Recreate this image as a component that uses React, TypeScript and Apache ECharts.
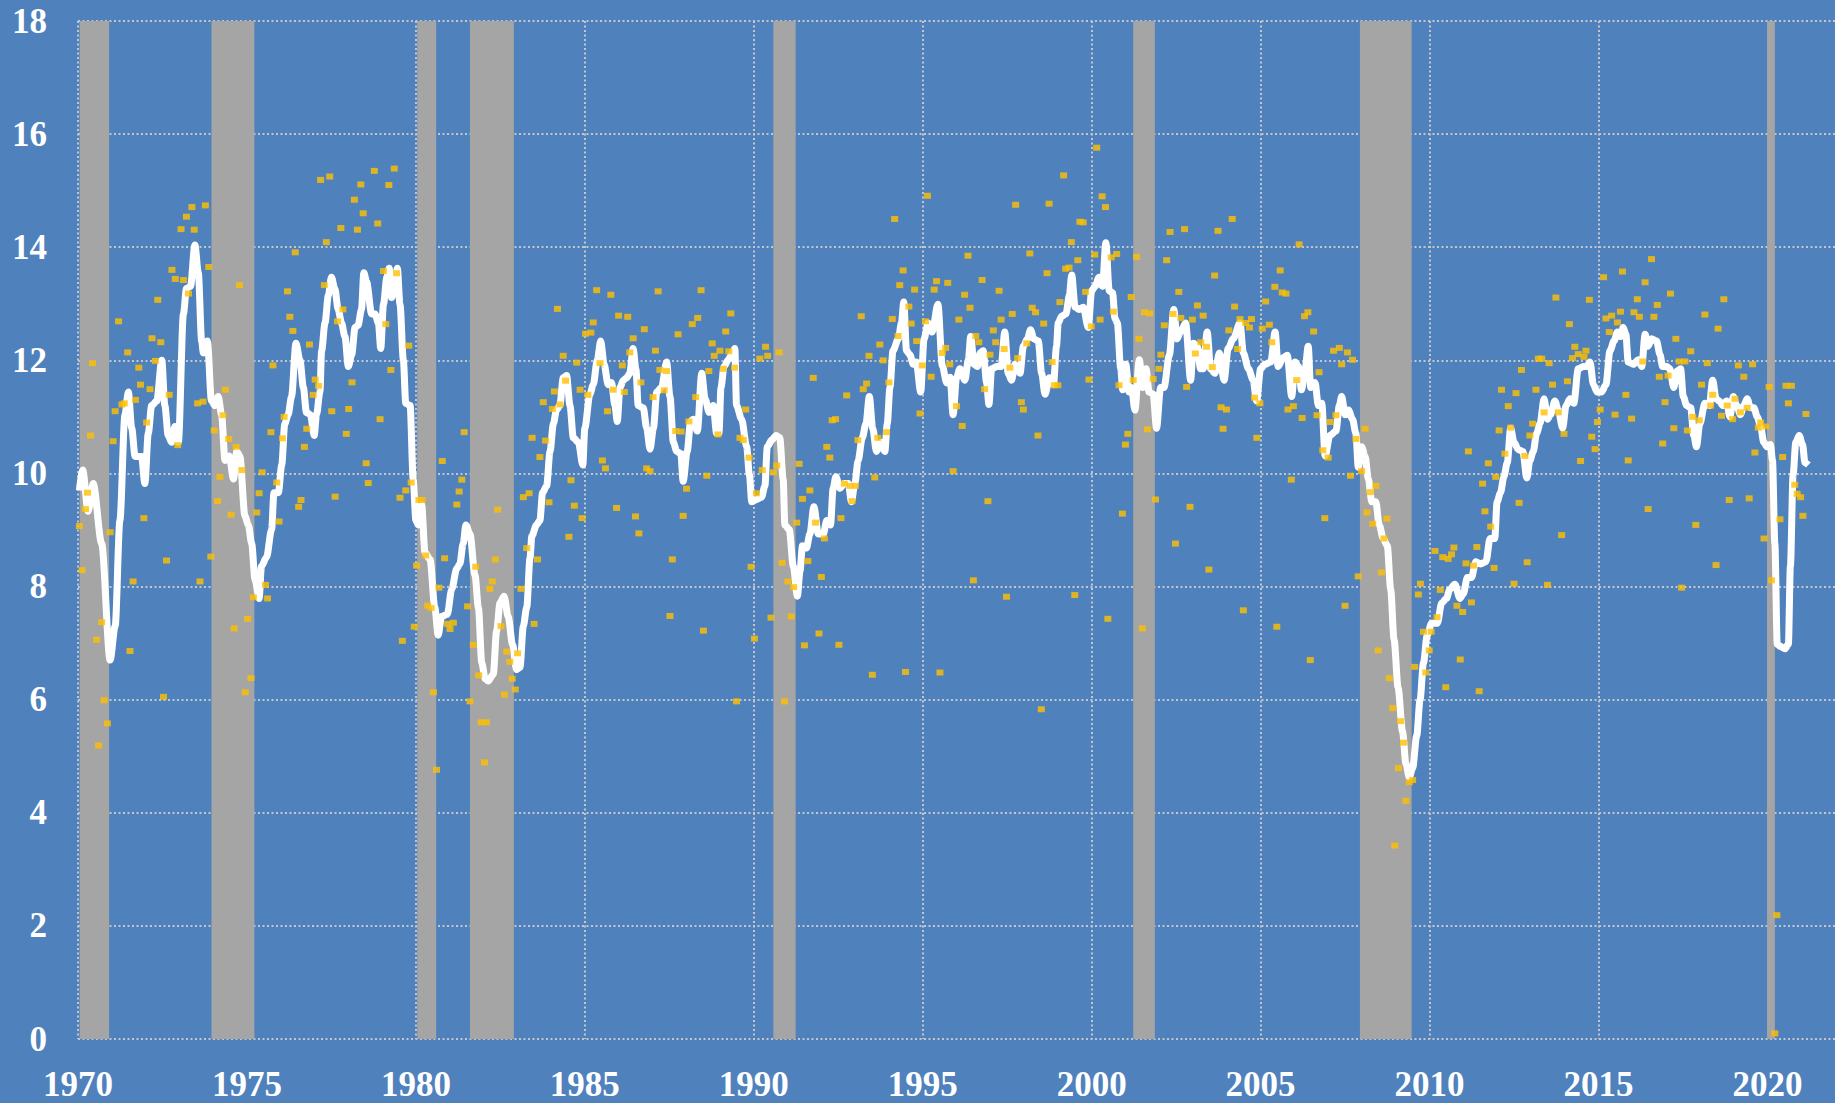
import React, { useEffect, useRef } from "react";
import * as echarts from "echarts";

// Recession bands (decimal years)
const recessions: [number, number][] = [
  [1970.05, 1970.92],
  [1973.95, 1975.22],
  [1980.04, 1980.6],
  [1981.6, 1982.9],
  [1990.58, 1991.24],
  [2001.23, 2001.87],
  [2007.94, 2009.47],
  [2019.99, 2020.22],
];

// White moving-average line: [year, value]
const movingAverage: [number, number][] = [
  [1970.04, 9.7], [1970.14, 10.06], [1970.3, 9.33], [1970.45, 9.82], [1970.7, 8.76], [1970.95, 6.7], [1971.1, 7.3], [1971.24, 9.17], [1971.39, 11.04], [1971.49, 11.44], [1971.59, 10.8], [1971.69, 10.3], [1971.88, 10.3], [1971.98, 9.82],
  [1972.08, 10.71], [1972.18, 11.2], [1972.33, 11.28], [1972.48, 12.0], [1972.57, 11.2], [1972.67, 10.67], [1972.77, 10.55], [1972.87, 10.83], [1972.97, 10.55], [1973.12, 12.82], [1973.21, 13.27], [1973.33, 13.31], [1973.46, 14.04], [1973.56, 13.55], [1973.66, 12.34], [1973.71, 12.13], [1973.83, 12.34], [1973.95, 11.28],
  [1974.05, 11.2], [1974.15, 11.36], [1974.25, 11.04], [1974.35, 10.23], [1974.48, 10.31], [1974.6, 9.9], [1974.7, 10.39], [1974.79, 10.31], [1974.94, 9.25], [1975.04, 9.09], [1975.14, 8.76], [1975.24, 8.12], [1975.36, 7.79], [1975.43, 8.36], [1975.58, 8.52], [1975.73, 9.01], [1975.8, 9.66], [1975.93, 9.66],
  [1976.03, 10.15], [1976.12, 10.88], [1976.22, 11.04], [1976.32, 11.36], [1976.45, 12.3], [1976.57, 12.0], [1976.67, 11.52], [1976.76, 11.08], [1976.88, 11.04], [1976.99, 10.67], [1977.06, 11.04], [1977.16, 11.44], [1977.21, 12.17], [1977.31, 12.66], [1977.41, 13.15], [1977.5, 13.47], [1977.6, 13.27], [1977.7, 12.9], [1977.8, 12.66], [1977.9, 12.42],
  [1978.0, 11.89], [1978.1, 12.1], [1978.2, 12.58], [1978.29, 12.62], [1978.39, 12.9], [1978.46, 13.55], [1978.54, 13.39], [1978.69, 12.82], [1978.79, 12.82], [1978.89, 12.66], [1978.96, 12.21], [1979.04, 12.99], [1979.14, 13.47], [1979.21, 13.63], [1979.28, 13.11], [1979.38, 13.31], [1979.45, 13.63], [1979.53, 12.99], [1979.63, 12.0], [1979.7, 11.24], [1979.83, 11.2], [1979.92, 9.9],
  [1980.0, 9.17], [1980.07, 9.09], [1980.17, 9.45], [1980.27, 8.6], [1980.42, 8.48], [1980.56, 7.63], [1980.66, 7.14], [1980.76, 7.47], [1980.93, 7.51], [1981.06, 7.95], [1981.21, 8.32], [1981.3, 8.4], [1981.4, 8.76], [1981.48, 9.09], [1981.6, 8.93], [1981.75, 8.2], [1981.85, 7.63], [1981.95, 6.65],
  [1982.05, 6.37], [1982.14, 6.33], [1982.29, 6.45], [1982.39, 7.22], [1982.49, 7.71], [1982.61, 7.83], [1982.73, 7.47], [1982.86, 6.98], [1982.98, 6.53], [1983.08, 6.57], [1983.18, 7.3], [1983.28, 7.63], [1983.38, 8.52], [1983.43, 8.89], [1983.57, 9.09], [1983.67, 9.17], [1983.75, 9.66], [1983.87, 9.78], [1983.97, 10.39],
  [1984.07, 10.88], [1984.16, 11.12], [1984.26, 11.2], [1984.36, 11.69], [1984.46, 11.73], [1984.56, 11.2], [1984.66, 10.63], [1984.81, 10.55], [1984.94, 10.15], [1985.0, 10.8], [1985.15, 11.4], [1985.25, 11.57], [1985.37, 12.01], [1985.47, 12.34], [1985.57, 11.93], [1985.69, 11.57], [1985.79, 11.61], [1985.89, 11.2], [1985.96, 10.92],
  [1986.04, 11.52], [1986.14, 11.65], [1986.24, 11.69], [1986.33, 11.77], [1986.43, 12.21], [1986.51, 11.85], [1986.58, 11.2], [1986.73, 11.16], [1986.83, 10.8], [1986.93, 10.43], [1987.03, 10.8], [1987.13, 11.44], [1987.27, 11.52], [1987.42, 11.97], [1987.52, 11.36], [1987.62, 10.55], [1987.72, 10.39], [1987.84, 10.35], [1987.91, 9.86],
  [1988.03, 10.39], [1988.13, 10.92], [1988.21, 10.96], [1988.33, 10.75], [1988.46, 11.77], [1988.56, 11.32], [1988.68, 11.08], [1988.8, 11.2], [1988.9, 10.71], [1988.97, 10.71], [1989.03, 11.52], [1989.12, 11.89], [1989.25, 12.01], [1989.34, 12.1], [1989.44, 12.21], [1989.49, 11.2], [1989.64, 10.96], [1989.79, 10.47], [1989.87, 9.98], [1989.94, 9.5],
  [1990.08, 9.54], [1990.23, 9.58], [1990.33, 9.78], [1990.4, 10.47], [1990.53, 10.59], [1990.66, 10.67], [1990.77, 10.63], [1990.87, 9.9], [1990.92, 9.09], [1991.05, 9.01], [1991.17, 8.36], [1991.29, 7.83], [1991.37, 8.28], [1991.44, 8.72], [1991.56, 8.68], [1991.66, 8.93], [1991.78, 9.41], [1991.91, 8.93],
  [1992.06, 8.93], [1992.16, 9.17], [1992.27, 9.09], [1992.35, 9.74], [1992.43, 9.94], [1992.55, 9.74], [1992.67, 9.82], [1992.8, 9.82], [1992.89, 9.5], [1992.99, 9.82], [1993.09, 10.23], [1993.21, 10.63], [1993.32, 10.88], [1993.42, 11.36], [1993.52, 10.8], [1993.63, 10.39], [1993.78, 10.55], [1993.88, 10.39], [1993.95, 10.88],
  [1994.03, 11.52], [1994.12, 12.17], [1994.28, 12.38], [1994.37, 12.66], [1994.44, 13.03], [1994.52, 12.17], [1994.62, 12.1], [1994.72, 11.93], [1994.81, 11.97], [1994.94, 11.44], [1995.04, 12.38], [1995.16, 12.66], [1995.28, 12.5], [1995.45, 12.99], [1995.58, 11.9], [1995.71, 11.6], [1995.81, 11.7], [1995.9, 11.04],
  [1996.0, 11.69], [1996.1, 11.85], [1996.25, 11.65], [1996.35, 12.01], [1996.42, 12.42], [1996.52, 11.93], [1996.62, 11.89], [1996.7, 12.13], [1996.79, 12.17], [1996.89, 11.61], [1996.96, 11.22], [1997.04, 11.85], [1997.19, 11.89], [1997.32, 11.89], [1997.43, 12.5], [1997.53, 11.77], [1997.63, 11.65], [1997.73, 11.93], [1997.88, 11.77], [1997.98, 12.25],
  [1998.1, 12.38], [1998.19, 12.54], [1998.29, 12.38], [1998.42, 12.34], [1998.52, 11.77], [1998.62, 11.4], [1998.75, 11.69], [1998.87, 11.57], [1998.96, 12.25], [1999.01, 12.66], [1999.11, 12.78], [1999.24, 12.82], [1999.34, 13.15], [1999.41, 13.51], [1999.51, 12.94], [1999.63, 12.9], [1999.75, 12.94], [1999.9, 12.58],
  [2000.0, 13.23], [2000.1, 13.31], [2000.22, 13.47], [2000.32, 13.31], [2000.42, 14.08], [2000.52, 13.23], [2000.62, 13.19], [2000.69, 12.74], [2000.76, 12.66], [2000.86, 11.85], [2000.92, 11.48], [2001.01, 11.93], [2001.11, 11.44], [2001.18, 11.52], [2001.28, 11.12], [2001.41, 12.01], [2001.51, 11.52], [2001.61, 11.85], [2001.7, 11.44], [2001.82, 11.4], [2001.92, 10.8],
  [2002.04, 11.52], [2002.14, 11.52], [2002.3, 12.09], [2002.43, 12.9], [2002.53, 12.38], [2002.63, 12.5], [2002.78, 12.66], [2002.93, 11.65], [2003.01, 12.3], [2003.13, 12.25], [2003.22, 11.85], [2003.3, 11.85], [2003.42, 12.5], [2003.52, 11.85], [2003.65, 11.77], [2003.78, 12.13], [2003.92, 11.65],
  [2004.04, 12.21], [2004.19, 12.38], [2004.39, 12.66], [2004.49, 12.13], [2004.64, 11.85], [2004.78, 11.65], [2004.88, 11.28], [2005.0, 11.85], [2005.13, 11.93], [2005.3, 11.97], [2005.43, 12.5], [2005.52, 11.89], [2005.67, 12.05], [2005.79, 12.09], [2005.92, 11.36],
  [2006.02, 11.97], [2006.12, 11.89], [2006.21, 11.48], [2006.31, 11.81], [2006.41, 12.25], [2006.48, 11.52], [2006.61, 11.61], [2006.71, 11.2], [2006.81, 11.24], [2006.91, 10.31], [2007.05, 10.67], [2007.23, 10.75], [2007.33, 11.2], [2007.4, 11.36], [2007.5, 11.04], [2007.6, 11.12], [2007.72, 10.96], [2007.82, 10.71], [2007.89, 10.11], [2007.99, 10.47],
  [2008.09, 10.31], [2008.19, 9.9], [2008.29, 9.5], [2008.41, 9.5], [2008.51, 9.09], [2008.63, 8.85], [2008.75, 8.72], [2008.85, 7.95], [2008.95, 7.06], [2009.07, 6.21], [2009.2, 5.44], [2009.3, 4.87], [2009.4, 4.63], [2009.5, 4.79], [2009.62, 5.36], [2009.72, 6.0], [2009.82, 6.65], [2009.93, 7.14],
  [2010.06, 7.35], [2010.23, 7.35], [2010.36, 7.71], [2010.5, 7.79], [2010.6, 7.95], [2010.75, 8.04], [2010.9, 7.79], [2011.0, 7.87], [2011.12, 8.16], [2011.24, 8.16], [2011.37, 8.44], [2011.51, 8.4], [2011.67, 8.44], [2011.79, 8.85], [2011.93, 8.85],
  [2012.0, 9.5], [2012.1, 9.66], [2012.2, 9.94], [2012.3, 10.19], [2012.4, 10.8], [2012.5, 10.55], [2012.63, 10.42], [2012.76, 10.39], [2012.88, 9.92], [2012.97, 10.23], [2013.07, 10.39], [2013.17, 10.71], [2013.27, 10.88], [2013.39, 11.32], [2013.49, 10.96], [2013.58, 11.04], [2013.71, 11.28], [2013.81, 11.12], [2013.94, 10.8],
  [2014.04, 11.2], [2014.16, 11.32], [2014.27, 11.24], [2014.4, 11.85], [2014.55, 11.89], [2014.65, 11.89], [2014.75, 11.97], [2014.85, 11.57], [2014.96, 11.44], [2015.09, 11.44], [2015.22, 11.57], [2015.34, 12.17], [2015.46, 12.34], [2015.56, 12.5], [2015.66, 12.42], [2015.73, 12.58], [2015.81, 12.46], [2015.88, 11.97],
  [2016.03, 11.93], [2016.18, 12.01], [2016.28, 11.89], [2016.38, 12.46], [2016.47, 12.25], [2016.57, 12.38], [2016.72, 12.34], [2016.82, 12.1], [2016.9, 11.89], [2017.02, 11.89], [2017.11, 11.85], [2017.23, 11.52], [2017.33, 11.81], [2017.43, 11.85], [2017.51, 11.36], [2017.61, 11.2], [2017.73, 11.16], [2017.82, 10.67], [2017.9, 10.47],
  [2018.0, 10.88], [2018.15, 11.24], [2018.28, 11.2], [2018.38, 11.65], [2018.48, 11.32], [2018.57, 11.28], [2018.69, 11.2], [2018.79, 11.28], [2018.89, 11.0], [2018.99, 11.36], [2019.09, 11.2], [2019.2, 11.04], [2019.3, 11.2], [2019.4, 11.32], [2019.5, 11.16], [2019.6, 11.16], [2019.7, 11.0], [2019.8, 10.83], [2019.89, 10.55], [2019.99, 10.47],
  [2020.09, 10.51], [2020.15, 10.23], [2020.22, 8.76], [2020.29, 6.98], [2020.39, 6.94], [2020.52, 6.9], [2020.62, 6.98], [2020.68, 8.36], [2020.76, 9.98], [2020.84, 10.55], [2020.94, 10.67], [2021.04, 10.51], [2021.11, 10.19], [2021.21, 10.15],
];

// Yellow monthly readings: [year, value]
const monthlyReadings: [number, number][] = [
  [1970.04, 9.07], [1970.12, 8.29], [1970.22, 9.37], [1970.28, 9.66], [1970.37, 10.67], [1970.43, 11.95], [1970.55, 7.06], [1970.61, 5.19], [1970.7, 7.37], [1970.77, 5.99], [1970.87, 5.58], [1970.95, 8.96],
  [1971.04, 10.57], [1971.1, 11.1], [1971.2, 12.69], [1971.3, 11.22], [1971.37, 11.24], [1971.47, 12.14], [1971.54, 6.86], [1971.63, 8.09], [1971.7, 11.3], [1971.8, 11.87], [1971.85, 11.57], [1971.95, 9.21],
  [1972.03, 10.9], [1972.13, 11.49], [1972.19, 12.39], [1972.29, 11.99], [1972.36, 13.07], [1972.45, 12.32], [1972.53, 6.05], [1972.62, 8.46], [1972.7, 11.39], [1972.78, 13.6], [1972.88, 13.44], [1972.95, 10.5],
  [1973.05, 14.32], [1973.12, 13.42], [1973.21, 14.54], [1973.27, 13.18], [1973.37, 14.71], [1973.44, 14.31], [1973.54, 11.24], [1973.61, 8.09], [1973.7, 11.27], [1973.77, 14.74], [1973.87, 13.65], [1973.93, 8.53],
  [1974.03, 10.76], [1974.13, 9.51], [1974.2, 9.94], [1974.29, 11.03], [1974.36, 11.48], [1974.46, 10.61], [1974.53, 9.27], [1974.62, 7.26], [1974.68, 10.47], [1974.78, 13.33], [1974.85, 10.06], [1974.95, 6.13],
  [1975.02, 7.43], [1975.12, 6.38], [1975.19, 7.81], [1975.29, 9.31], [1975.36, 9.65], [1975.45, 10.02], [1975.55, 8.03], [1975.61, 7.79], [1975.71, 10.73], [1975.77, 11.91], [1975.88, 9.84], [1975.95, 9.15],
  [1976.05, 10.62], [1976.1, 11.0], [1976.2, 13.22], [1976.27, 12.77], [1976.36, 12.52], [1976.43, 13.91], [1976.53, 9.41], [1976.6, 9.53], [1976.7, 10.47], [1976.77, 10.79], [1976.85, 12.28], [1976.96, 11.39],
  [1977.02, 11.66], [1977.12, 11.55], [1977.18, 15.19], [1977.29, 13.33], [1977.35, 14.09], [1977.45, 15.25], [1977.51, 11.1], [1977.61, 9.59], [1977.68, 12.69], [1977.78, 14.34], [1977.84, 12.9], [1977.94, 10.7],
  [1978.01, 11.14], [1978.11, 11.61], [1978.18, 14.84], [1978.27, 14.31], [1978.37, 15.11], [1978.44, 14.6], [1978.53, 10.18], [1978.59, 9.83], [1978.77, 15.35], [1978.87, 14.42], [1978.94, 10.96],
  [1979.04, 13.58], [1979.11, 12.64], [1979.2, 15.1], [1979.26, 11.83], [1979.36, 15.39], [1979.43, 13.54], [1979.53, 9.57], [1979.6, 7.04], [1979.7, 9.7], [1979.79, 12.26], [1979.86, 9.84], [1979.95, 7.29],
  [1980.02, 8.37], [1980.09, 9.53], [1980.19, 9.53], [1980.29, 8.55], [1980.35, 7.66], [1980.45, 7.62], [1980.52, 6.13], [1980.61, 4.76], [1980.68, 7.98], [1980.78, 10.22], [1980.85, 8.5], [1980.94, 7.34],
  [1981.01, 7.25], [1981.11, 7.36], [1981.21, 9.45], [1981.28, 9.68], [1981.36, 9.89], [1981.43, 10.73], [1981.53, 7.65], [1981.6, 5.97], [1981.7, 6.97], [1981.77, 8.35], [1981.86, 6.43], [1981.93, 5.6],
  [1982.03, 4.89], [1982.09, 5.6], [1982.19, 7.96], [1982.26, 8.09], [1982.35, 8.48], [1982.42, 9.36], [1982.52, 7.3], [1982.62, 6.09], [1982.69, 6.85], [1982.78, 6.67], [1982.85, 6.37], [1982.94, 6.18],
  [1983.01, 6.82], [1983.11, 7.96], [1983.18, 9.58], [1983.28, 8.68], [1983.35, 9.65], [1983.44, 10.63], [1983.5, 7.34], [1983.6, 8.48], [1983.67, 10.29], [1983.77, 11.26], [1983.84, 10.58], [1983.94, 9.49],
  [1984.04, 11.14], [1984.1, 11.45], [1984.19, 12.91], [1984.26, 11.22], [1984.36, 12.08], [1984.43, 11.64], [1984.53, 8.88], [1984.59, 9.88], [1984.69, 9.43], [1984.76, 11.96], [1984.86, 11.48], [1984.92, 9.21],
  [1985.02, 12.47], [1985.09, 11.39], [1985.18, 12.49], [1985.25, 12.67], [1985.35, 13.24], [1985.45, 11.95], [1985.52, 10.23], [1985.61, 10.09], [1985.67, 11.1], [1985.77, 13.16], [1985.84, 11.48], [1985.94, 9.39],
  [1986.0, 12.79], [1986.11, 11.91], [1986.17, 11.44], [1986.27, 12.77], [1986.33, 12.14], [1986.43, 12.39], [1986.5, 9.24], [1986.6, 8.94], [1986.66, 11.61], [1986.76, 12.55], [1986.83, 10.09], [1986.93, 10.04],
  [1987.02, 11.35], [1987.09, 12.17], [1987.17, 13.22], [1987.22, 11.83], [1987.35, 11.47], [1987.42, 11.81], [1987.52, 7.48], [1987.59, 8.48], [1987.69, 10.75], [1987.76, 12.46], [1987.85, 10.74], [1987.91, 9.25],
  [1988.01, 9.73], [1988.08, 10.92], [1988.18, 12.64], [1988.28, 11.35], [1988.34, 12.75], [1988.44, 13.24], [1988.51, 7.22], [1988.61, 9.96], [1988.67, 11.81], [1988.77, 12.3], [1988.83, 12.08], [1988.94, 10.69],
  [1989.0, 12.17], [1989.1, 11.85], [1989.17, 12.51], [1989.26, 12.16], [1989.32, 12.83], [1989.43, 11.87], [1989.49, 5.97], [1989.59, 10.63], [1989.69, 10.59], [1989.76, 11.13], [1989.86, 10.28], [1989.92, 8.35],
  [1990.02, 7.08], [1990.08, 9.65], [1990.18, 12.03], [1990.25, 10.06], [1990.35, 12.24], [1990.41, 12.08], [1990.51, 7.45], [1990.58, 10.02], [1990.68, 10.14], [1990.75, 12.14], [1990.84, 8.42], [1990.91, 5.97],
  [1991.01, 8.09], [1991.11, 7.47], [1991.18, 7.99], [1991.27, 9.13], [1991.34, 10.17], [1991.44, 9.55], [1991.5, 6.96], [1991.6, 8.45], [1991.66, 9.7], [1991.76, 11.69], [1991.83, 9.13], [1991.93, 7.17],
  [1992.0, 8.17], [1992.09, 8.85], [1992.16, 10.47], [1992.25, 10.28], [1992.32, 10.94], [1992.42, 10.96], [1992.52, 6.97], [1992.58, 9.21], [1992.68, 9.82], [1992.75, 11.38], [1992.85, 9.78], [1992.91, 9.51],
  [1993.01, 9.78], [1993.08, 10.59], [1993.18, 12.78], [1993.24, 11.49], [1993.34, 11.59], [1993.41, 12.08], [1993.51, 6.44], [1993.58, 9.93], [1993.67, 10.63], [1993.73, 12.28], [1993.83, 12.0], [1993.93, 10.73],
  [1994.0, 11.61], [1994.1, 12.73], [1994.17, 14.5], [1994.27, 12.43], [1994.32, 13.33], [1994.42, 13.59], [1994.49, 6.49], [1994.59, 12.95], [1994.66, 12.65], [1994.76, 13.25], [1994.82, 12.34], [1994.92, 11.06],
  [1994.99, 11.91], [1995.08, 12.69], [1995.14, 14.91], [1995.25, 11.71], [1995.34, 13.25], [1995.41, 13.4], [1995.51, 6.48], [1995.58, 12.13], [1995.68, 12.22], [1995.74, 13.37], [1995.8, 11.93], [1995.9, 10.04],
  [1996.0, 11.19], [1996.07, 12.72], [1996.17, 10.84], [1996.24, 13.16], [1996.34, 13.85], [1996.4, 12.93], [1996.5, 8.11], [1996.57, 12.43], [1996.66, 12.32], [1996.76, 13.42], [1996.83, 11.49], [1996.93, 9.51],
  [1996.99, 12.1], [1997.09, 12.53], [1997.16, 12.32], [1997.26, 13.23], [1997.32, 12.72], [1997.41, 12.2], [1997.48, 7.82], [1997.58, 11.87], [1997.65, 12.82], [1997.75, 14.75], [1997.81, 12.04], [1997.92, 11.26],
  [1997.98, 11.13], [1998.08, 12.3], [1998.17, 13.89], [1998.24, 12.93], [1998.34, 12.85], [1998.41, 10.67], [1998.51, 5.83], [1998.58, 12.65], [1998.68, 13.54], [1998.74, 14.77], [1998.83, 11.97], [1998.9, 11.56],
  [1999.0, 11.56], [1999.06, 13.03], [1999.17, 15.27], [1999.23, 13.62], [1999.33, 13.64], [1999.4, 14.09], [1999.5, 7.85], [1999.59, 13.77], [1999.65, 14.45], [1999.75, 14.44], [1999.82, 13.21], [1999.92, 11.66],
  [1999.99, 12.6], [2000.09, 13.87], [2000.15, 15.76], [2000.25, 12.72], [2000.31, 14.9], [2000.41, 14.71], [2000.48, 7.43], [2000.58, 13.82], [2000.64, 12.86], [2000.74, 13.88], [2000.81, 11.56], [2000.91, 9.29],
  [2001.0, 10.51], [2001.07, 10.7], [2001.17, 13.12], [2001.23, 11.65], [2001.33, 13.83], [2001.4, 12.38], [2001.5, 7.26], [2001.56, 12.85], [2001.65, 10.78], [2001.72, 12.83], [2001.82, 11.67], [2001.89, 9.54],
  [2001.99, 11.85], [2002.05, 12.1], [2002.15, 12.62], [2002.22, 13.77], [2002.32, 14.27], [2002.41, 12.82], [2002.48, 8.76], [2002.58, 13.21], [2002.64, 12.75], [2002.75, 14.32], [2002.81, 11.53], [2002.91, 9.41],
  [2002.98, 12.72], [2003.07, 12.12], [2003.13, 12.97], [2003.23, 12.32], [2003.3, 12.79], [2003.4, 12.24], [2003.47, 8.3], [2003.57, 11.88], [2003.64, 13.5], [2003.74, 14.29], [2003.83, 11.17], [2003.89, 10.79],
  [2003.99, 11.13], [2004.06, 12.53], [2004.16, 14.5], [2004.23, 12.95], [2004.32, 12.2], [2004.39, 12.73], [2004.49, 7.58], [2004.56, 12.66], [2004.67, 12.58], [2004.73, 12.73], [2004.82, 11.34], [2004.89, 10.63],
  [2004.98, 11.24], [2005.05, 12.56], [2005.15, 13.04], [2005.26, 12.63], [2005.33, 12.32], [2005.42, 13.3], [2005.48, 7.29], [2005.58, 13.59], [2005.64, 13.2], [2005.75, 13.18], [2005.81, 11.13], [2005.91, 9.89],
  [2005.97, 11.19], [2006.07, 11.65], [2006.14, 14.05], [2006.23, 10.98], [2006.3, 12.78], [2006.4, 12.85], [2006.47, 6.7], [2006.57, 12.51], [2006.67, 11.03], [2006.73, 11.79], [2006.84, 10.41], [2006.9, 9.21],
  [2007.0, 10.28], [2007.06, 10.91], [2007.16, 12.17], [2007.23, 11.03], [2007.33, 12.22], [2007.4, 11.93], [2007.5, 7.66], [2007.57, 12.14], [2007.66, 9.96], [2007.72, 12.01], [2007.82, 10.61], [2007.89, 8.18],
  [2007.99, 10.04], [2008.09, 10.79], [2008.15, 9.31], [2008.25, 9.67], [2008.32, 9.11], [2008.41, 9.78], [2008.48, 6.87], [2008.58, 8.25], [2008.65, 8.85], [2008.74, 9.2], [2008.81, 6.38], [2008.91, 5.85],
  [2008.97, 3.42], [2009.08, 4.79], [2009.14, 5.62], [2009.23, 5.24], [2009.3, 4.21], [2009.4, 4.54], [2009.5, 4.58], [2009.56, 6.58], [2009.67, 7.86], [2009.73, 8.05], [2009.82, 7.2], [2009.89, 6.48],
  [2009.99, 6.87], [2010.05, 7.2], [2010.16, 8.63], [2010.22, 7.46], [2010.32, 7.94], [2010.39, 8.52], [2010.48, 6.22], [2010.55, 8.49], [2010.65, 8.57], [2010.72, 8.69], [2010.81, 7.66], [2010.91, 6.71],
  [2010.98, 7.55], [2011.08, 8.41], [2011.15, 10.39], [2011.24, 7.72], [2011.3, 8.37], [2011.4, 8.7], [2011.47, 6.15], [2011.57, 9.82], [2011.64, 9.33], [2011.74, 10.18], [2011.81, 9.06], [2011.91, 8.33],
  [2011.96, 9.94], [2012.06, 10.76], [2012.13, 11.48], [2012.23, 10.35], [2012.33, 11.19], [2012.4, 10.81], [2012.5, 8.05], [2012.56, 11.42], [2012.65, 9.48], [2012.72, 11.83], [2012.82, 10.31], [2012.89, 8.43],
  [2012.97, 10.67], [2013.05, 10.88], [2013.15, 11.48], [2013.22, 12.03], [2013.32, 12.03], [2013.39, 11.08], [2013.49, 8.03], [2013.54, 11.95], [2013.64, 11.57], [2013.74, 13.11], [2013.81, 11.08], [2013.91, 8.91],
  [2013.98, 10.7], [2014.08, 11.63], [2014.14, 12.64], [2014.23, 12.04], [2014.3, 12.24], [2014.4, 12.11], [2014.47, 10.22], [2014.57, 12.06], [2014.63, 12.17], [2014.73, 13.07], [2014.8, 10.65], [2014.9, 10.43],
  [2014.97, 10.91], [2015.05, 11.13], [2015.15, 13.47], [2015.22, 12.74], [2015.32, 12.5], [2015.39, 12.79], [2015.49, 11.04], [2015.56, 12.67], [2015.65, 12.86], [2015.71, 13.57], [2015.81, 11.39], [2015.88, 10.23],
  [2015.98, 10.97], [2016.05, 12.85], [2016.15, 13.08], [2016.21, 12.77], [2016.31, 11.98], [2016.38, 13.38], [2016.47, 9.37], [2016.57, 13.79], [2016.64, 12.77], [2016.74, 12.98], [2016.8, 11.71], [2016.9, 10.53],
  [2016.97, 11.26], [2017.06, 11.73], [2017.13, 13.18], [2017.23, 10.8], [2017.29, 12.38], [2017.39, 11.98], [2017.46, 7.98], [2017.56, 11.98], [2017.63, 10.76], [2017.73, 12.16], [2017.79, 11.0], [2017.88, 9.09],
  [2017.98, 10.94], [2018.05, 11.57], [2018.15, 12.81], [2018.22, 11.95], [2018.32, 11.2], [2018.38, 11.39], [2018.48, 8.38], [2018.54, 12.56], [2018.64, 11.02], [2018.71, 13.08], [2018.81, 11.2], [2018.87, 9.53],
  [2018.97, 10.96], [2019.04, 11.32], [2019.14, 11.91], [2019.2, 11.08], [2019.3, 11.71], [2019.4, 11.16], [2019.46, 9.56], [2019.56, 11.93], [2019.63, 10.37], [2019.73, 10.81], [2019.8, 10.9], [2019.9, 8.85],
  [2019.95, 10.83], [2020.05, 11.53], [2020.12, 8.11], [2020.22, 0.1], [2020.28, 2.19], [2020.37, 9.19], [2020.45, 10.29], [2020.55, 11.55], [2020.62, 11.24], [2020.71, 11.55], [2020.81, 9.8], [2020.88, 9.64],
  [2020.98, 9.58], [2021.05, 9.25], [2021.14, 11.05],
];

const xMin = 1970;
const xMax = 2022;
const yMin = 0;
const yMax = 18;

const labelStyle = {
  color: "#ffffff",
  fontFamily: "Liberation Serif",
  fontWeight: "bold" as const,
  fontSize: 35,
};

const gridLine = {
  show: true,
  lineStyle: { color: "#C3C6CC", width: 2, type: [2, 2.5] as number[] },
};

export default function App() {
  const ref = useRef<HTMLDivElement>(null);

  useEffect(() => {
    if (!ref.current) return;
    const chart = echarts.init(ref.current, null, { renderer: "svg" });
    chart.setOption({
      animation: false,
      backgroundColor: "#4F81BD",
      grid: { left: 78, right: 0, top: 21, bottom: 64, containLabel: false },
      xAxis: {
        type: "value",
        min: xMin,
        max: xMax,
        interval: 5,
        axisLine: { show: false },
        axisTick: { show: false },
        axisLabel: {
          ...labelStyle,
          margin: 28,
          showMaxLabel: false,
          formatter: (v: number) => String(v),
        },
        splitLine: { ...gridLine, showMaxLine: false },
      },
      yAxis: {
        type: "value",
        min: yMin,
        max: yMax,
        interval: 2,
        axisLine: { show: false },
        axisTick: { show: false },
        axisLabel: { ...labelStyle, margin: 31, formatter: (v: number) => String(v) },
        splitLine: gridLine,
      },
      series: [
        {
          name: "Recessions",
          type: "line",
          data: [],
          z: 1,
          silent: true,
          markArea: {
            silent: true,
            itemStyle: { color: "#A5A5A5" },
            data: recessions.map(([a, b]) => [{ xAxis: a }, { xAxis: b }]),
          },
        },
        {
          name: "Moving average",
          type: "line",
          data: movingAverage,
          z: 3,
          showSymbol: false,
          smooth: 0.3,
          smoothMonotone: "x",
          lineStyle: { color: "#ffffff", width: 7 },
          silent: true,
        },
        {
          name: "Monthly",
          type: "scatter",
          data: monthlyReadings,
          z: 4,
          symbol: "rect",
          symbolSize: [7, 6],
          itemStyle: { color: "#FFC000" },
          silent: true,
        },
      ],
    });
    return () => chart.dispose();
  }, []);

  return (
    <div
      ref={ref}
      style={{ position: "fixed", left: 0, top: 0, width: 1835, height: 1103 }}
    />
  );
}
